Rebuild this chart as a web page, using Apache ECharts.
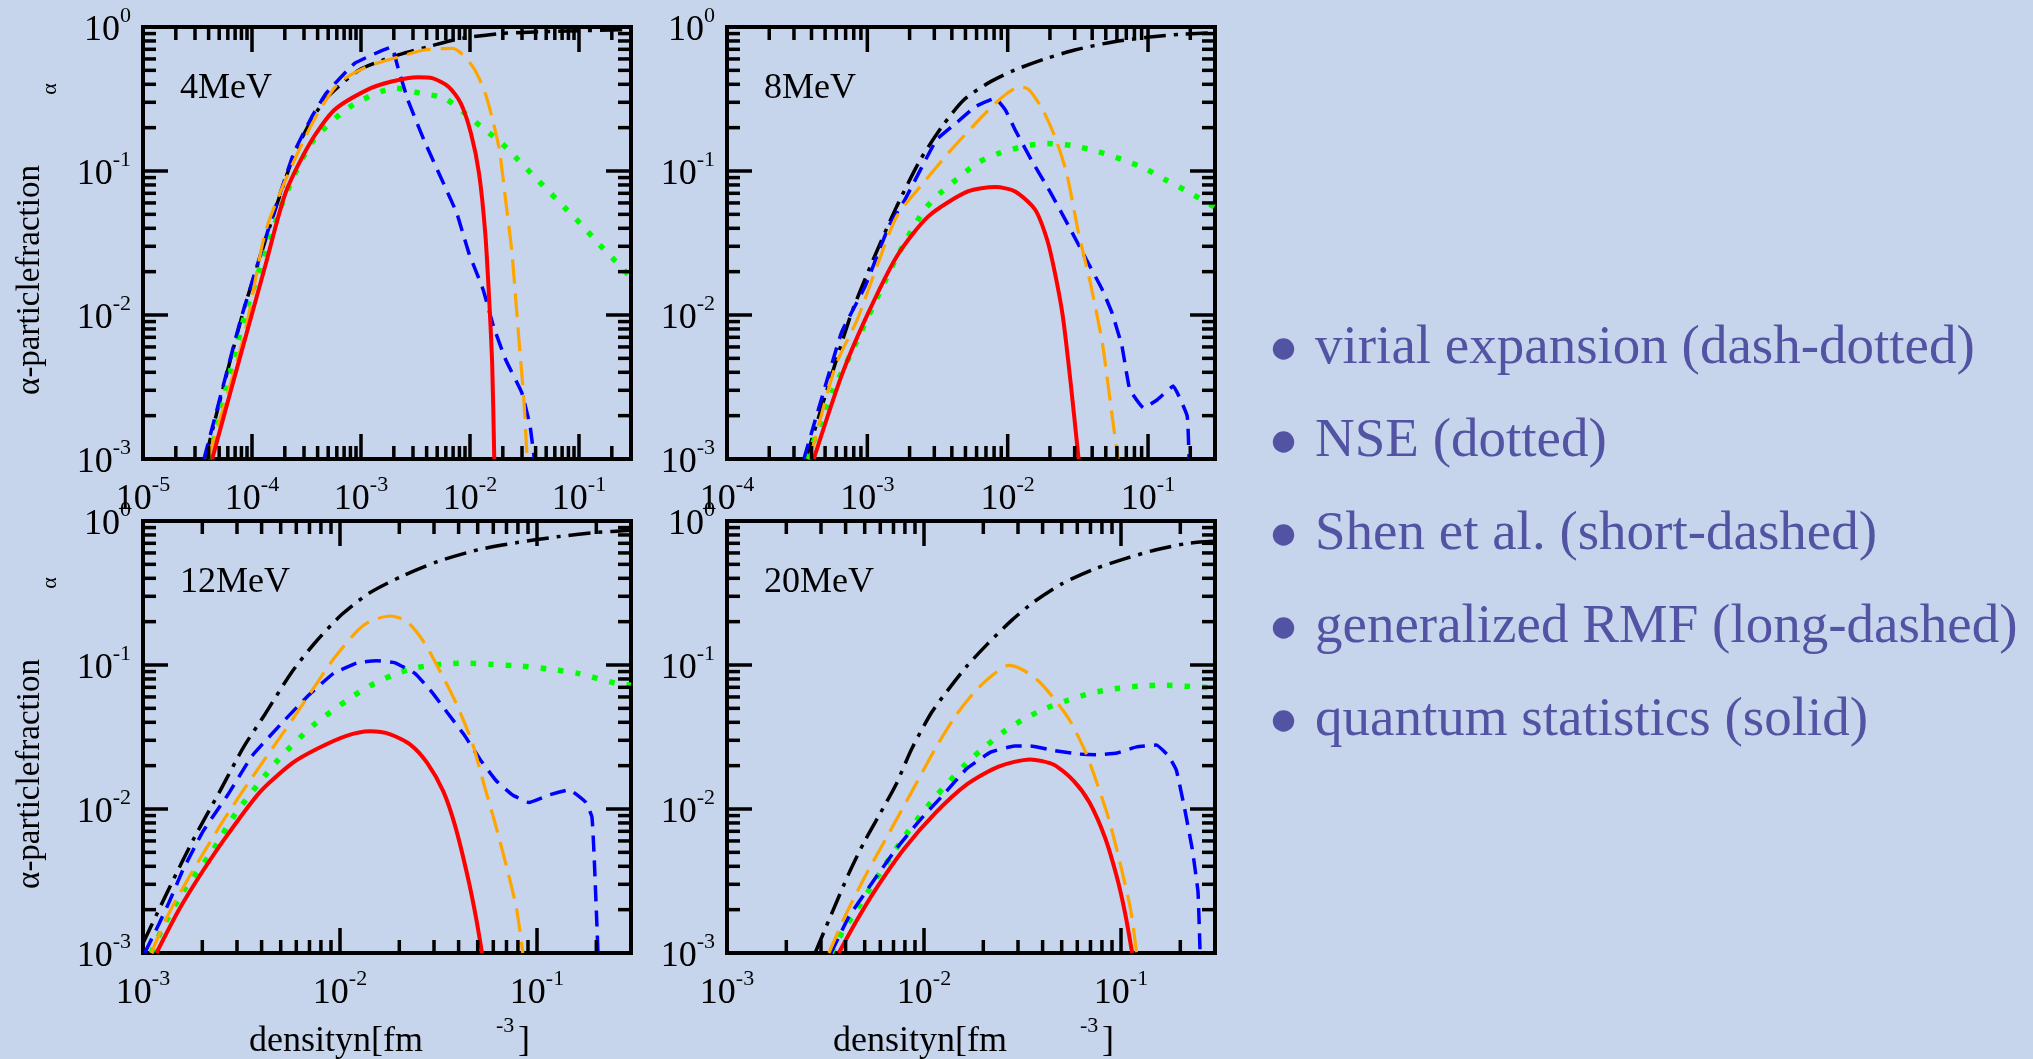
<!DOCTYPE html>
<html>
<head>
<meta charset="utf-8">
<script src="https://cdn.jsdelivr.net/npm/echarts@6.0.0/dist/echarts.min.js"></script>
<style>
  html, body { margin: 0; padding: 0; background: #c6d4ec; }
  #chart { width: 2033px; height: 1059px; }
</style>
</head>
<body>
<div id="chart"></div>
<script>
var panelLabels = ['4MeV', '8MeV', '12MeV', '20MeV'];
var xMins = [1e-5, 1e-4, 1e-3, 1e-3];
var xMax = 0.3;
var yMin = 1e-3, yMax = 1;
var legendLabels = [
    'virial expansion (dash-dotted)',
    'NSE (dotted)',
    'Shen et al. (short-dashed)',
    'generalized RMF (long-dashed)',
    'quantum statistics (solid)'
];

// ---- T = 4 MeV ----
var virial4 = [[3.72e-5,1e-3],[7.94e-5,9.33e-3],[1.45e-4,4.07e-2],[2.40e-4,0.126],[3.55e-4,0.229],[5.01e-4,0.331],[9.55e-4,0.501],[1.58e-3,0.589],[2.45e-3,0.656],[4.17e-3,0.731],[7.59e-3,0.822],[1.95e-2,0.902],[7.94e-2,0.938],[0.3,0.959]];
var nse4 = [[4.07e-5,1e-3],[8.22e-5,8.81e-3],[1.71e-4,4.84e-2],[2.41e-4,9.16e-2],[3.72e-4,0.166],[8.04e-4,0.281],[2.08e-3,0.376],[3.48e-3,0.347],[5.83e-3,0.32],[8.97e-3,0.252],[1.32e-2,0.198],[1.95e-2,0.156],[2.75e-2,0.12],[3.88e-2,9.16e-2],[5.47e-2,7.03e-2],[7.73e-2,5.38e-2],[0.109,4.12e-2],[0.154,3.08e-2],[0.217,2.36e-2],[0.3,1.82e-2]];
var shen4 = [[3.63e-5,1e-3],[7.87e-5,9.29e-3],[1.44e-4,4.12e-2],[2.41e-4,0.133],[3.55e-4,0.239],[4.80e-4,0.347],[8.77e-4,0.56],[1.91e-3,0.724],[2.17e-3,0.531],[2.69e-3,0.312],[3.78e-3,0.164],[5.35e-3,9.16e-2],[7.55e-3,5.11e-2],[9.77e-3,2.69e-2],[1.32e-2,1.5e-2],[1.64e-2,8.36e-3],[2.12e-2,4.91e-3],[2.99e-2,2.88e-3],[3.56e-2,1.69e-3],[3.89e-2,1e-3]];
var rmf4 = [[3.95e-5,1e-3],[8.57e-5,7.52e-3],[1.32e-4,3.71e-2],[2.03e-4,8.69e-2],[3.71e-4,0.226],[6.21e-4,0.406],[1.14e-3,0.531],[2.26e-3,0.622],[3.79e-3,0.692],[6.92e-3,0.711],[1.06e-2,0.531],[1.38e-2,0.347],[1.64e-2,0.215],[1.86e-2,0.14],[2.12e-2,6.31e-2],[2.41e-2,2.84e-2],[2.63e-2,1.28e-2],[2.86e-2,5.75e-3],[3.12e-2,2.59e-3],[3.34e-2,1e-3]];
var qs4 = [[4.31e-5,1e-3],[6.07e-5,2.59e-3],[8.95e-5,7.52e-3],[1.32e-4,2.18e-2],[2.03e-4,7.03e-2],[3.40e-4,0.156],[5.69e-4,0.265],[1.14e-3,0.366],[1.91e-3,0.418],[3.33e-3,0.448],[4.50e-3,0.441],[6.35e-3,0.385],[8.22e-3,0.296],[1.02e-2,0.183],[1.21e-2,9.66e-2],[1.38e-2,3.71e-2],[1.50e-2,1.28e-2],[1.60e-2,4.41e-3],[1.67e-2,1e-3]];

// ---- T = 8 MeV ----
var virial8 = [[3.65e-4,1e-3],[7.43e-4,9.29e-3],[1.10e-3,2.42e-2],[1.62e-3,5.68e-2],[2.39e-3,0.12],[3.41e-3,0.204],[4.88e-3,0.312],[7.19e-3,0.406],[1.13e-2,0.504],[1.91e-2,0.607],[3.0e-2,0.692],[5.73e-2,0.791],[0.103,0.851],[0.173,0.891],[0.3,0.912]];
var nse8 = [[3.72e-4,1e-3],[5.74e-4,3.04e-3],[7.69e-4,5.46e-3],[1.25e-3,1.5e-2],[1.73e-3,2.84e-2],[2.55e-3,5.38e-2],[3.31e-3,7.03e-2],[4.43e-3,8.93e-2],[6.12e-3,0.114],[8.73e-3,0.133],[1.29e-2,0.148],[1.91e-2,0.155],[2.90e-2,0.15],[4.43e-2,0.136],[6.53e-2,0.12],[9.33e-2,0.105],[0.133,8.69e-2],[0.191,7.21e-2],[0.3,5.6e-2]];
var shen8 = [[3.53e-4,1e-3],[6.53e-4,7.52e-3],[9.64e-4,1.58e-2],[1.42e-3,4.12e-2],[1.85e-3,6.31e-2],[3.10e-3,0.164],[4.29e-3,0.215],[5.93e-3,0.281],[8.18e-3,0.32],[9.64e-3,0.265],[1.13e-2,0.193],[1.47e-2,0.12],[2.03e-2,7.03e-2],[2.81e-2,3.91e-2],[3.64e-2,2.42e-2],[4.72e-2,1.5e-2],[5.55e-2,1.03e-2],[6.52e-2,6.07e-3],[7.41e-2,3.04e-3],[9.31e-2,2.26e-3],[0.117,2.59e-3],[0.151,3.21e-3],[0.19,1.99e-3],[0.196,1e-3]];
var rmf8 = [[3.89e-4,1e-3],[5.93e-4,4.42e-3],[8.47e-4,9.29e-3],[1.17e-3,2.18e-2],[1.62e-3,4.84e-2],[2.39e-3,7.82e-2],[3.77e-3,0.133],[5.93e-3,0.215],[8.20e-3,0.296],[9.95e-3,0.347],[1.21e-2,0.385],[1.42e-2,0.366],[1.78e-2,0.265],[2.17e-2,0.173],[2.63e-2,9.66e-2],[3.20e-2,3.71e-2],[3.88e-2,1.67e-2],[4.72e-2,6.40e-3],[5.55e-2,1.99e-3],[6.11e-2,1e-3]];
var qs8 = [[4.15e-4,1e-3],[6.53e-4,3.76e-3],[9.64e-4,9.29e-3],[1.62e-3,2.55e-2],[2.72e-3,4.84e-2],[5.20e-3,7.21e-2],[8.18e-3,7.73e-2],[1.13e-2,7.21e-2],[1.57e-2,5.38e-2],[1.91e-2,3.33e-2],[2.17e-2,1.96e-2],[2.47e-2,9.8e-3],[2.81e-2,3.38e-3],[3.20e-2,1e-3]];

// ---- T = 12 MeV ----
var virial12 = [[1e-3,1.17e-3],[1.38e-3,2.95e-3],[1.82e-3,6.31e-3],[2.45e-3,1.32e-2],[3.24e-3,2.69e-2],[4.17e-3,4.57e-2],[5.62e-3,8.71e-2],[7.41e-3,0.141],[1.02e-2,0.224],[1.41e-2,0.316],[2.09e-2,0.417],[3.16e-2,0.525],[5.01e-2,0.631],[7.94e-2,0.708],[0.126,0.776],[0.2,0.832],[0.3,0.861]];
var nse12 = [[1.10e-3,1e-3],[1.26e-3,1.50e-3],[1.59e-3,2.65e-3],[2.22e-3,4.98e-3],[2.96e-3,9.35e-3],[4.88e-3,2.21e-2],[7.31e-3,3.81e-2],[1.12e-2,5.86e-2],[1.42e-2,7.16e-2],[1.85e-2,8.51e-2],[2.40e-2,9.53e-2],[3.19e-2,0.101],[4.35e-2,0.103],[5.93e-2,0.101],[8.26e-2,9.82e-2],[0.115,9.38e-2],[0.161,8.75e-2],[0.253,7.45e-2],[0.3,7.24e-2]];
var shen12 = [[1.02e-3,1e-3],[1.21e-3,1.61e-3],[1.36e-3,2.27e-3],[1.59e-3,3.74e-3],[2.02e-3,7.03e-3],[2.69e-3,1.25e-2],[3.58e-3,2.34e-2],[5.24e-3,4.15e-2],[6.97e-3,6.21e-2],[9.27e-3,8.75e-2],[1.23e-2,0.104],[1.53e-2,0.107],[1.89e-2,0.104],[2.40e-2,8.75e-2],[2.90e-2,6.58e-2],[3.51e-2,4.66e-2],[4.25e-2,3.30e-2],[5.14e-2,2.21e-2],[6.21e-2,1.57e-2],[7.52e-2,1.25e-2],[9.10e-2,1.11e-2],[0.115,1.25e-2],[0.146,1.36e-2],[0.177,1.11e-2],[0.19,8.83e-3],[0.195,4.70e-3],[0.204,1e-3]];
var rmf12 = [[1.10e-3,1e-3],[1.38e-3,1.99e-3],[1.84e-3,3.96e-3],[2.56e-3,8.34e-3],[3.58e-3,1.66e-2],[5.24e-3,3.50e-2],[6.97e-3,6.21e-2],[9.27e-3,0.11],[1.23e-2,0.174],[1.42e-2,0.201],[1.80e-2,0.219],[2.18e-2,0.201],[2.64e-2,0.147],[3.19e-2,9.27e-2],[3.86e-2,5.53e-2],[4.67e-2,2.94e-2],[5.38e-2,1.48e-2],[6.21e-2,7.45e-3],[7.16e-2,3.53e-3],[7.89e-2,1.99e-3],[8.47e-2,1e-3]];
var qs12 = [[1.17e-3,1e-3],[1.52e-3,1.99e-3],[2.02e-3,3.74e-3],[2.69e-3,6.64e-3],[3.94e-3,1.32e-2],[5.75e-3,2.09e-2],[7.66e-3,2.62e-2],[1.07e-2,3.21e-2],[1.42e-2,3.46e-2],[1.80e-2,3.30e-2],[2.29e-2,2.78e-2],[2.77e-2,2.09e-2],[3.35e-2,1.32e-2],[3.86e-2,7.45e-3],[4.46e-2,3.33e-3],[4.90e-2,1.77e-3],[5.26e-2,1e-3]];

// ---- T = 20 MeV ----
var virial20 = [[2.80e-3,1e-3],[4.14e-3,3.53e-3],[4.98e-3,5.92e-3],[6.00e-3,9.35e-3],[7.21e-3,1.48e-2],[8.67e-3,2.62e-2],[1.09e-2,4.66e-2],[1.31e-2,6.58e-2],[1.65e-2,9.82e-2],[2.08e-2,0.138],[2.75e-2,0.201],[3.62e-2,0.275],[5.00e-2,0.366],[7.24e-2,0.461],[0.105,0.548],[0.151,0.632],[0.219,0.7],[0.3,0.724]];
var nse20 = [[3.39e-3,1e-3],[3.86e-3,1.41e-3],[4.54e-3,1.99e-3],[6.00e-3,3.63e-3],[8.09e-3,6.64e-3],[1.14e-2,1.21e-2],[1.65e-2,2.09e-2],[2.04e-2,2.70e-2],[2.51e-2,3.40e-2],[3.16e-2,4.15e-2],[4.06e-2,4.93e-2],[5.36e-2,5.69e-2],[7.08e-2,6.38e-2],[9.33e-2,6.84e-2],[0.126,7.16e-2],[0.17,7.24e-2],[0.224,7.08e-2],[0.3,6.92e-2]];
var shen20 = [[3.37e-3,1e-3],[4.14e-3,1.77e-3],[5.21e-3,2.81e-3],[7.21e-3,5.27e-3],[9.51e-3,8.34e-3],[1.25e-2,1.25e-2],[1.65e-2,1.91e-2],[2.18e-2,2.48e-2],[2.88e-2,2.74e-2],[3.46e-2,2.74e-2],[4.56e-2,2.55e-2],[6.03e-2,2.41e-2],[7.59e-2,2.38e-2],[9.55e-2,2.45e-2],[0.12,2.70e-2],[0.151,2.78e-2],[0.174,2.34e-2],[0.191,1.86e-2],[0.209,1.05e-2],[0.23,5.27e-3],[0.246,2.65e-3],[0.252,1e-3]];
var rmf20 = [[3.29e-3,1e-3],[3.95e-3,1.77e-3],[4.98e-3,3.33e-3],[6.58e-3,6.64e-3],[8.67e-3,1.32e-2],[1.14e-2,2.62e-2],[1.44e-2,4.40e-2],[1.82e-2,6.58e-2],[2.29e-2,8.75e-2],[2.69e-2,9.93e-2],[3.16e-2,9.27e-2],[3.79e-2,7.80e-2],[4.56e-2,5.86e-2],[5.48e-2,4.15e-2],[6.61e-2,2.48e-2],[7.59e-2,1.48e-2],[8.71e-2,8.34e-3],[0.1,3.96e-3],[0.112,1.99e-3],[0.12,1e-3]];
var qs20 = [[3.69e-3,1e-3],[4.54e-3,1.67e-3],[5.73e-3,2.81e-3],[7.91e-3,5.27e-3],[1.14e-2,9.35e-3],[1.65e-2,1.48e-2],[2.39e-2,1.97e-2],[3.46e-2,2.21e-2],[4.56e-2,2.03e-2],[5.75e-2,1.57e-2],[6.92e-2,1.11e-2],[8.32e-2,6.27e-3],[9.55e-2,3.33e-3],[0.105,1.88e-3],[0.114,1e-3]];

var panels = [
    { virial: virial4, nse: nse4, shen: shen4, rmf: rmf4, qs: qs4 },
    { virial: virial8, nse: nse8, shen: shen8, rmf: rmf8, qs: qs8 },
    { virial: virial12, nse: nse12, shen: shen12, rmf: rmf12, qs: qs12 },
    { virial: virial20, nse: nse20, shen: shen20, rmf: rmf20, qs: qs20 }
];

var gridBoxes = [
    { left: 143, top: 27, width: 488, height: 432 },
    { left: 727, top: 27, width: 488, height: 432 },
    { left: 143, top: 521, width: 488, height: 432 },
    { left: 727, top: 521, width: 488, height: 432 }
];

var lineStyles = {
    virial: { color: '#000000', width: 3.5, type: [22, 8, 4, 8], smooth: 0.25 },
    nse:    { color: '#00ff00', width: 5.5, type: [5.5, 12], smooth: 0.25 },
    shen:   { color: '#0000ff', width: 3.5, type: [16, 9], smooth: 0.1 },
    rmf:    { color: '#ffa500', width: 3.2, type: [24, 10], smooth: 0.25 },
    qs:     { color: '#ff0000', width: 4, type: 'solid', smooth: 0.25 }
};

var serif = '"Liberation Serif", "DejaVu Serif", serif';
var legendColor = '#5353a3';

function expLabel(v) {
    var e = Math.log10(v);
    var r = Math.round(e);
    if (Math.abs(e - r) > 1e-6) return '';
    return '{b|10}{s|' + r + '}';
}

// base sits at the bottom of a tall line, exponent at the top
var tickRich = {
    b: { fontFamily: serif, fontSize: 36, color: '#000', lineHeight: 44, verticalAlign: 'bottom' },
    s: { fontFamily: serif, fontSize: 22, color: '#000', lineHeight: 22, verticalAlign: 'top' }
};

// minor/major tick positions (decoration for the frame, ticks on all four sides)
function tickData(xMin) {
    var d = [];
    var e, m, v;
    for (e = Math.round(Math.log10(xMin)); e <= 0; e++) {
        for (m = 1; m <= 9; m++) {
            v = m * Math.pow(10, e);
            if (v <= xMin * 1.0001 || v >= xMax * 0.9999) continue;
            d.push([v, yMin, m === 1 ? 1 : 0]);
        }
    }
    for (e = -3; e < 0; e++) {
        for (m = 1; m <= 9; m++) {
            v = m * Math.pow(10, e);
            if (v <= yMin * 1.0001 || v >= yMax * 0.9999) continue;
            d.push([xMin, v, m === 1 ? 3 : 2]);
        }
    }
    return d;
}

function renderTicks(params, api) {
    var cs = params.coordSys;
    var p = api.coord([api.value(0), api.value(1)]);
    var kind = api.value(2);
    var len = (kind === 1 || kind === 3) ? 25 : 13;
    var st = { stroke: '#000', lineWidth: 3.5 };
    var b = cs.y + cs.height, r = cs.x + cs.width;
    if (kind < 2) {
        return { type: 'group', children: [
            { type: 'line', shape: { x1: p[0], y1: b, x2: p[0], y2: b - len }, style: st },
            { type: 'line', shape: { x1: p[0], y1: cs.y, x2: p[0], y2: cs.y + len }, style: st }
        ] };
    }
    return { type: 'group', children: [
        { type: 'line', shape: { x1: cs.x, y1: p[1], x2: cs.x + len, y2: p[1] }, style: st },
        { type: 'line', shape: { x1: r, y1: p[1], x2: r - len, y2: p[1] }, style: st }
    ] };
}

var option = {
    backgroundColor: '#c6d4ec',
    animation: false,
    grid: [],
    xAxis: [],
    yAxis: [],
    series: [],
    graphic: []
};

panels.forEach(function (p, i) {
    var g = gridBoxes[i];
    option.grid.push({
        left: g.left, top: g.top, width: g.width, height: g.height,
        show: true, borderColor: '#000', borderWidth: 4,
        backgroundColor: 'transparent', containLabel: false, outerBoundsMode: 'none'
    });
    option.xAxis.push({
        type: 'log', logBase: 10, gridIndex: i, min: xMins[i], max: xMax,
        axisLine: { show: false }, axisTick: { show: false }, splitLine: { show: false },
        axisLabel: { margin: 15, formatter: expLabel, rich: tickRich, showMinLabel: true, showMaxLabel: true }
    });
    option.yAxis.push({
        type: 'log', logBase: 10, gridIndex: i, min: yMin, max: yMax,
        axisLine: { show: false }, axisTick: { show: false }, splitLine: { show: false },
        axisLabel: { margin: 12, formatter: expLabel, rich: tickRich, showMinLabel: true, showMaxLabel: true }
    });
    ['virial', 'nse', 'shen', 'rmf', 'qs'].forEach(function (key) {
        var ls = lineStyles[key];
        option.series.push({
            type: 'line', xAxisIndex: i, yAxisIndex: i,
            data: p[key], showSymbol: false, symbol: 'none',
            smooth: ls.smooth, clip: true,
            lineStyle: { color: ls.color, width: ls.width, type: ls.type, cap: 'butt' },
            silent: true, z: 2
        });
    });
    option.series.push({
        type: 'custom', xAxisIndex: i, yAxisIndex: i,
        data: tickData(xMins[i]), renderItem: renderTicks, silent: true, z: 3
    });

    // panel label
    option.graphic.push({
        type: 'text', x: g.left + 37, y: g.top + 62,
        style: { text: panelLabels[i], font: '36px ' + serif, fill: '#000', align: 'left', verticalAlign: 'middle', textAlign: 'left', textVerticalAlign: 'middle' }
    });
});

// axis titles (left column y titles, bottom row x titles)
[0, 2].forEach(function (i) {
    var g = gridBoxes[i];
    option.graphic.push({
        type: 'text', x: 30, y: g.top + 253, rotation: Math.PI / 2,
        style: { text: '\u03b1-particlefraction', font: '33px ' + serif, fill: '#000', align: 'center', verticalAlign: 'middle', textAlign: 'center', textVerticalAlign: 'middle' }
    });
    option.graphic.push({
        type: 'text', x: 50, y: g.top + 62, rotation: Math.PI / 2,
        style: { text: '\u03b1', font: '22px ' + serif, fill: '#000', align: 'center', verticalAlign: 'middle', textAlign: 'center', textVerticalAlign: 'middle' }
    });
});
[2, 3].forEach(function (i) {
    var g = gridBoxes[i];
    var x0 = g.left + 106;
    option.graphic.push({
        type: 'text', x: x0, y: 1042,
        style: { text: 'densityn[fm', font: '36px ' + serif, fill: '#000', align: 'left', verticalAlign: 'middle', textAlign: 'left', textVerticalAlign: 'middle' }
    });
    option.graphic.push({
        type: 'text', x: x0 + 247, y: 1026,
        style: { text: '-3', font: '22px ' + serif, fill: '#000', align: 'left', verticalAlign: 'middle', textAlign: 'left', textVerticalAlign: 'middle' }
    });
    option.graphic.push({
        type: 'text', x: x0 + 269, y: 1042,
        style: { text: ']', font: '36px ' + serif, fill: '#000', align: 'left', verticalAlign: 'middle', textAlign: 'left', textVerticalAlign: 'middle' }
    });
});

// bullet list on the right
legendLabels.forEach(function (t, k) {
    var cy = 349 + 93 * k;
    option.graphic.push({
        type: 'circle', shape: { cx: 1283.5, cy: cy, r: 10.7 },
        style: { fill: legendColor }
    });
    option.graphic.push({
        type: 'text', x: 1315, y: cy,
        style: { text: t, font: '55px ' + serif, fill: legendColor, align: 'left', verticalAlign: 'middle', textAlign: 'left', textVerticalAlign: 'middle' }
    });
});

var myChart = echarts.init(document.getElementById('chart'));
myChart.setOption(option);
</script>
</body>
</html>
